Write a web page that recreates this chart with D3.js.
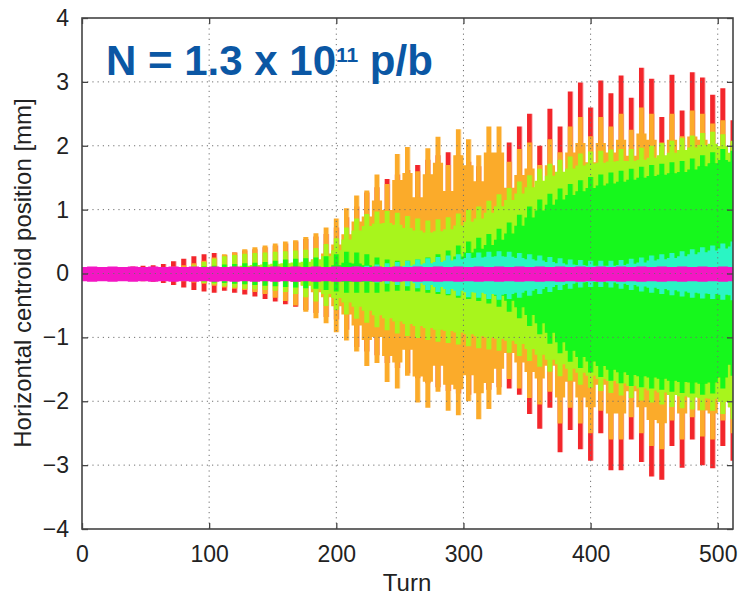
<!DOCTYPE html>
<meta charset="utf-8">
<script src="https://d3js.org/d3.v7.min.js"></script>
<body style="margin:0;background:#fff">
<div id="chart"></div>
<script>
// turn samples, every 8 turns
var turns = d3.range(0, 513, 8);

// envelope of each bunch trace (upper / lower extreme in mm)
var redHi = [0.10,0.10,0.10,0.10,0.10,0.11,0.12,0.13,
  0.15,0.19,0.23,0.27,0.30,0.32,0.29,0.33,
  0.36,0.38,0.41,0.44,0.47,0.50,0.54,0.58,
  0.62,0.72,0.88,1.05,1.27,1.35,1.48,1.55,
  1.62,1.70,1.78,1.85,1.90,1.85,1.75,1.68,
  1.62,1.77,2.05,2.30,2.50,2.00,2.58,2.30,
  2.85,2.99,2.60,3.02,2.82,3.10,2.75,3.22,
  3.05,2.45,3.11,2.55,3.15,3.07,2.80,2.90,2.40];
var redLo = [-0.10,-0.10,-0.10,-0.10,-0.10,-0.11,-0.12,-0.13,
  -0.15,-0.18,-0.22,-0.26,-0.28,-0.30,-0.27,-0.30,
  -0.33,-0.36,-0.40,-0.44,-0.48,-0.52,-0.57,-0.62,
  -0.68,-0.72,-0.88,-1.15,-1.22,-1.28,-1.40,-1.48,
  -1.56,-1.64,-1.72,-1.78,-1.84,-1.88,-1.90,-1.86,
  -1.82,-1.78,-1.80,-1.90,-2.20,-2.43,-2.10,-2.80,
  -2.45,-2.75,-2.93,-2.50,-3.08,-3.08,-2.60,-2.95,
  -3.18,-3.23,-2.70,-3.04,-2.60,-3.00,-3.05,-2.70,-2.93];
var orangeHi = [0.09,0.09,0.09,0.09,0.09,0.09,0.09,0.09,
  0.10,0.11,0.13,0.16,0.20,0.25,0.30,0.33,
  0.38,0.41,0.44,0.47,0.50,0.52,0.57,0.63,
  0.72,0.86,1.02,1.22,1.30,1.55,1.40,1.87,
  1.98,1.60,1.96,2.14,1.70,2.26,2.10,1.85,
  2.30,2.30,1.75,1.95,2.05,1.70,2.10,1.90,
  2.30,2.45,2.15,2.45,2.30,2.50,2.25,2.60,
  2.50,2.05,2.50,2.15,2.55,2.50,2.35,2.40,2.05];
var orangeLo = [-0.09,-0.09,-0.09,-0.09,-0.09,-0.09,-0.09,-0.09,
  -0.10,-0.11,-0.12,-0.14,-0.16,-0.19,-0.22,-0.24,
  -0.26,-0.29,-0.32,-0.38,-0.43,-0.50,-0.60,-0.70,
  -0.78,-0.92,-1.05,-1.22,-1.45,-1.40,-1.70,-1.80,
  -1.60,-2.02,-2.10,-1.85,-2.15,-2.22,-2.00,-2.28,
  -2.12,-1.90,-1.65,-1.80,-1.95,-2.05,-1.85,-2.35,
  -2.10,-2.35,-2.50,-2.15,-2.60,-2.60,-2.25,-2.50,
  -2.70,-2.75,-2.30,-2.60,-2.25,-2.55,-2.60,-2.30,-2.50];
var yellowHi = [0.08,0.08,0.08,0.08,0.08,0.08,0.08,0.08,
  0.08,0.09,0.10,0.13,0.18,0.23,0.27,0.29,
  0.31,0.32,0.33,0.34,0.35,0.36,0.37,0.40,
  0.46,0.55,0.72,0.86,0.93,0.97,0.98,0.95,
  0.90,0.86,0.83,0.85,0.88,0.94,1.00,1.05,
  1.14,1.24,1.34,1.44,1.54,1.64,1.72,1.78,
  1.83,1.88,1.91,1.92,1.94,1.95,1.95,1.97,
  2.00,2.04,2.08,2.12,2.16,2.20,2.22,2.18,2.08];
var yellowLo = [-0.08,-0.08,-0.08,-0.08,-0.08,-0.08,-0.08,-0.08,
  -0.08,-0.09,-0.10,-0.12,-0.15,-0.17,-0.20,-0.22,
  -0.24,-0.25,-0.26,-0.27,-0.29,-0.32,-0.37,-0.44,
  -0.51,-0.57,-0.64,-0.71,-0.77,-0.84,-0.89,-0.94,
  -0.98,-1.01,-1.04,-1.07,-1.09,-1.11,-1.14,-1.17,
  -1.19,-1.21,-1.24,-1.29,-1.37,-1.46,-1.54,-1.61,
  -1.68,-1.74,-1.79,-1.84,-1.87,-1.91,-1.95,-1.99,
  -2.02,-2.05,-2.09,-2.11,-2.13,-2.14,-2.15,-2.20,-2.28];
var greenHi = [0.07,0.07,0.07,0.07,0.07,0.07,0.07,0.07,
  0.07,0.08,0.09,0.10,0.11,0.12,0.14,0.15,
  0.16,0.17,0.18,0.20,0.22,0.23,0.24,0.25,
  0.27,0.30,0.34,0.33,0.30,0.25,0.22,0.20,
  0.20,0.22,0.25,0.30,0.36,0.44,0.50,0.56,
  0.62,0.70,0.80,0.92,1.05,1.16,1.25,1.33,
  1.40,1.46,1.51,1.55,1.58,1.61,1.64,1.67,
  1.70,1.72,1.74,1.76,1.80,1.85,1.90,1.95,1.92];
var greenLo = [-0.07,-0.07,-0.07,-0.07,-0.07,-0.07,-0.07,-0.07,
  -0.07,-0.08,-0.09,-0.10,-0.12,-0.14,-0.15,-0.16,
  -0.17,-0.18,-0.19,-0.20,-0.21,-0.22,-0.23,-0.24,
  -0.26,-0.28,-0.30,-0.30,-0.30,-0.30,-0.28,-0.27,
  -0.27,-0.28,-0.30,-0.32,-0.34,-0.38,-0.40,-0.43,
  -0.47,-0.52,-0.60,-0.70,-0.82,-0.95,-1.10,-1.25,
  -1.38,-1.48,-1.55,-1.62,-1.68,-1.72,-1.76,-1.78,
  -1.80,-1.82,-1.85,-1.87,-1.88,-1.90,-1.88,-1.80,-1.60];
var cyanHi = [0.09,0.09,0.09,0.09,0.09,0.09,0.09,0.09,
  0.09,0.09,0.09,0.09,0.09,0.09,0.09,0.09,
  0.09,0.09,0.09,0.09,0.09,0.09,0.09,0.09,
  0.09,0.10,0.10,0.11,0.12,0.14,0.16,0.18,
  0.20,0.22,0.24,0.26,0.28,0.30,0.32,0.33,
  0.34,0.35,0.34,0.32,0.30,0.28,0.26,0.24,
  0.22,0.21,0.20,0.20,0.20,0.21,0.23,0.25,
  0.28,0.30,0.32,0.35,0.38,0.41,0.44,0.47,0.50];
var cyanLo = [-0.09,-0.09,-0.09,-0.09,-0.09,-0.09,-0.09,-0.09,
  -0.09,-0.09,-0.09,-0.09,-0.09,-0.09,-0.09,-0.09,
  -0.09,-0.09,-0.09,-0.09,-0.09,-0.09,-0.09,-0.09,
  -0.09,-0.10,-0.10,-0.11,-0.12,-0.14,-0.16,-0.18,
  -0.20,-0.23,-0.26,-0.29,-0.32,-0.35,-0.37,-0.38,
  -0.40,-0.41,-0.40,-0.38,-0.35,-0.32,-0.29,-0.26,
  -0.24,-0.22,-0.21,-0.21,-0.22,-0.24,-0.26,-0.28,
  -0.30,-0.32,-0.34,-0.36,-0.38,-0.39,-0.40,-0.41,-0.42];
var magentaHi = [0.10,0.11,0.10,0.11,0.10,0.11,0.10,0.11,
  0.10,0.11,0.10,0.11,0.10,0.11,0.10,0.11,
  0.10,0.11,0.10,0.11,0.10,0.11,0.10,0.11,
  0.10,0.11,0.10,0.11,0.10,0.11,0.10,0.11,
  0.10,0.11,0.10,0.11,0.10,0.11,0.10,0.11,
  0.10,0.11,0.10,0.11,0.10,0.11,0.10,0.11,
  0.10,0.11,0.10,0.11,0.10,0.11,0.10,0.11,
  0.10,0.11,0.10,0.11,0.10,0.11,0.10,0.11,0.10];
var magentaLo = [-0.12,-0.13,-0.12,-0.13,-0.12,-0.13,-0.12,-0.13,
  -0.12,-0.13,-0.12,-0.13,-0.12,-0.13,-0.12,-0.13,
  -0.12,-0.13,-0.12,-0.13,-0.12,-0.13,-0.12,-0.13,
  -0.12,-0.13,-0.12,-0.13,-0.12,-0.13,-0.12,-0.13,
  -0.12,-0.13,-0.12,-0.13,-0.12,-0.13,-0.12,-0.13,
  -0.12,-0.13,-0.12,-0.13,-0.12,-0.13,-0.12,-0.13,
  -0.12,-0.13,-0.12,-0.13,-0.12,-0.13,-0.12,-0.13,
  -0.12,-0.13,-0.12,-0.13,-0.12,-0.13,-0.12,-0.13,-0.12];

// striped: drawn as thick turn-by-turn strokes; solidInset: px from the envelope
// where the strokes merge into a solid band (0 = strokes only)
var series = [
  {name:"red",    color:"#f3262b", hi:redHi,     lo:redLo,     striped:true,  solidInset:0},
  {name:"orange", color:"#fbab2a", hi:orangeHi,  lo:orangeLo,  striped:true,  solidInset:26},
  {name:"yellow", color:"#a8f51c", hi:yellowHi,  lo:yellowLo,  striped:true,  solidInset:12},
  {name:"green",  color:"#16f81c", hi:greenHi,   lo:greenLo,   striped:true,  solidInset:11},
  {name:"cyan",   color:"#2cf5c4", hi:cyanHi,    lo:cyanLo,    striped:true,  solidInset:5},
  {name:"magenta",color:"#f416c4", hi:magentaHi, lo:magentaLo, striped:false, solidInset:0}
];
var xTicks = [0,100,200,300,400,500];
var yTicks = [-4,-3,-2,-1,0,1,2,3,4];

var W = 738, H = 596;
var x = d3.scaleLinear().domain([0,512]).range([82,733]);
var y = d3.scaleLinear().domain([-4,4]).range([529,18]);
var font = "'Liberation Sans', Arial, Helvetica, sans-serif";

var svg = d3.select('#chart').append('svg').attr('width',W).attr('height',H)
  .style('font-family',font);
var defs = svg.append('defs');

defs.append('clipPath').attr('id','plot').append('rect')
  .attr('x',82).attr('y',18).attr('width',651).attr('height',511);

// turn-by-turn oscillation shows up as thick vertical strokes, one per sample
var step = x(turns[1]) - x(turns[0]), barW = 5;
defs.append('pattern').attr('id','stripes').attr('patternUnits','userSpaceOnUse')
  .attr('x',x(0)-barW/2).attr('y',0).attr('width',step).attr('height',20)
  .append('rect').attr('width',barW).attr('height',20).attr('fill','#fff');
defs.append('mask').attr('id','stripeMask').attr('maskUnits','userSpaceOnUse')
  .attr('x',0).attr('y',0).attr('width',W).attr('height',H)
  .append('rect').attr('width',W).attr('height',H).attr('fill','url(#stripes)');

series.forEach(function(s,i){
  if(s.solidInset>0){
    defs.append('filter').attr('id','inset'+i).attr('filterUnits','userSpaceOnUse')
      .attr('x',0).attr('y',0).attr('width',W).attr('height',H)
      .append('feMorphology').attr('operator','erode').attr('radius','0.1 '+s.solidInset);
  }
});

var area = d3.area().curve(d3.curveStep)
  .x(function(d){return x(d.t);})
  .y0(function(d){return y(d.lo);})
  .y1(function(d){return y(d.hi);});
function points(s){
  return turns.map(function(t,i){return {t:t,hi:s.hi[i],lo:s.lo[i]};});
}

// traces, outermost first
var g = svg.append('g').attr('clip-path','url(#plot)');
series.forEach(function(s,i){
  var pts = points(s);
  var p = g.append('path').datum(pts).attr('d',area).attr('fill',s.color);
  if(s.striped) p.attr('mask','url(#stripeMask)');
  if(s.solidInset>0){
    g.append('path').datum(pts).attr('d',area).attr('fill',s.color)
      .attr('filter','url(#inset'+i+')');
  }
});

// dotted grid, on top of the traces
var grid = svg.append('g').attr('stroke','#707070').attr('stroke-width',1)
  .attr('stroke-dasharray','1.2,4');
xTicks.slice(1).forEach(function(v){
  grid.append('line').attr('x1',x(v)).attr('x2',x(v)).attr('y1',y(4)).attr('y2',y(-4));
});
yTicks.slice(1,-1).forEach(function(v){
  grid.append('line').attr('x1',x(0)).attr('x2',x(512)).attr('y1',y(v)).attr('y2',y(v));
});

// axes with inward ticks on all four sides
function styleAxis(sel){
  sel.select('.domain').remove();
  sel.selectAll('line').attr('stroke','#444').attr('stroke-width',1.3);
  sel.selectAll('text').attr('fill','#222').style('font-size','23px').style('font-family',font);
}
svg.append('g').attr('transform','translate(0,529)')
  .call(d3.axisBottom(x).tickValues(xTicks).tickSize(-6).tickPadding(17)).call(styleAxis);
svg.append('g').attr('transform','translate(82,0)')
  .call(d3.axisLeft(y).tickValues(yTicks).tickSize(-6).tickPadding(13)).call(styleAxis);
svg.append('g').attr('transform','translate(0,18)')
  .call(d3.axisTop(x).tickValues(xTicks).tickSize(-6).tickFormat('')).call(styleAxis);
svg.append('g').attr('transform','translate(733,0)')
  .call(d3.axisRight(y).tickValues(yTicks).tickSize(-6).tickFormat('')).call(styleAxis);

svg.append('rect').attr('x',82).attr('y',18).attr('width',651).attr('height',511)
  .attr('fill','none').attr('stroke','#444').attr('stroke-width',1.6);

// axis titles
svg.append('text').attr('x',407).attr('y',591).attr('text-anchor','middle')
  .attr('fill','#222').style('font-size','24px').text('Turn');
svg.append('text').attr('transform','translate(31,273) rotate(-90)').attr('text-anchor','middle')
  .attr('fill','#222').style('font-size','24px').text('Horizontal centroid position [mm]');

// annotation
var title = svg.append('text').attr('x',106).attr('y',75).attr('fill','#0b57a4')
  .style('font-size','42px').style('font-weight','bold');
title.append('tspan').text('N = 1.3 x 10');
title.append('tspan').attr('dy',-13).style('font-size','21px').text('11');
title.append('tspan').attr('dy',13).text(' p/b');
</script>
</body>
